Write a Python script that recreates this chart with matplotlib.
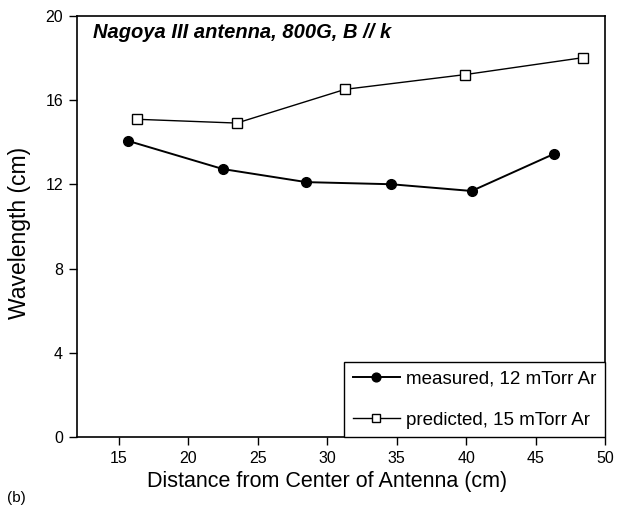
import matplotlib
matplotlib.use("Agg")
import matplotlib.pyplot as plt

plt.rcParams['font.family'] = ['Liberation Sans', 'DejaVu Sans']

# measured wavelength, 12 mTorr Ar
dist_measured = [15.7, 22.5, 28.5, 34.6, 40.4, 46.3]
wave_measured = [14.05, 12.72, 12.1, 12.0, 11.68, 13.43]

# predicted wavelength, 15 mTorr Ar
dist_predicted = [16.3, 23.5, 31.3, 39.95, 48.4]
wave_predicted = [15.08, 14.9, 16.5, 17.2, 18.0]

x_ticks = [15, 20, 25, 30, 35, 40, 45, 50]
y_ticks = [0, 4, 8, 12, 16, 20]

fig = plt.figure(figsize=(6.17, 5.05), dpi=100)
ax = fig.add_axes([0.1248, 0.134, 0.8558, 0.8353])

ax.plot(dist_measured, wave_measured, color='black', lw=1.4, marker='o',
        ms=7, mfc='black', mec='black', label='measured, 12 mTorr Ar')
ax.plot(dist_predicted, wave_predicted, color='black', lw=1.0, marker='s',
        ms=7, mfc='white', mec='black', mew=1.0, label='predicted, 15 mTorr Ar')

ax.set_xlim(12, 50)
ax.set_ylim(0, 20)
ax.set_xticks(x_ticks)
ax.set_yticks(y_ticks)
ax.tick_params(direction='out', length=6, width=1, labelsize=11.5, pad=4)
for s in ax.spines.values():
    s.set_linewidth(1.2)

ax.set_xlabel("Distance from Center of Antenna (cm)", fontsize=15.5)
ax.xaxis.set_label_coords(0.473, -0.08)
ax.set_ylabel("Wavelength (cm)", fontsize=16.5)
ax.yaxis.set_label_coords(-0.087, 0.484)

ax.text(0.03, 0.947, "Nagoya III antenna, 800G, B // k", transform=ax.transAxes,
        fontsize=14.5, fontweight='bold', style='italic', va='baseline')

leg = ax.legend(loc='lower right', bbox_to_anchor=(1.0, 0.0), borderaxespad=0,
                fancybox=False, edgecolor='black', framealpha=1, fontsize=13.5,
                handlelength=2.5, labelspacing=1.3, handletextpad=0.35,
                borderpad=0.45, markerscale=0.9)
leg.get_frame().set_linewidth(1.0)

fig.text(0.012, 0.0, "(b)", fontsize=11, va='bottom')

fig.savefig("out.png", dpi=100)
